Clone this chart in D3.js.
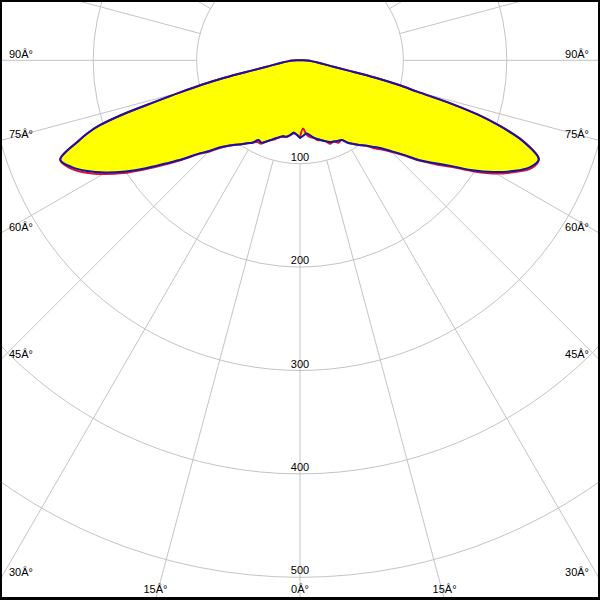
<!DOCTYPE html>
<html><head><meta charset="utf-8">
<script src="https://cdn.jsdelivr.net/npm/d3@7"></script>
<style>html,body{margin:0;padding:0;background:#fff;} svg{display:block;}</style>
</head><body>
<script>
// gamma angles (degrees from nadir)
const gammaAngles = [0,2.5,5,7.5,10,12.5,15,17.5,20,22.5,25,27.5,30,32.5,35,37.5,40,42.5,45,47.5,50,52.5,55,57.5,60,62.5,65,67.5,70,71,72,73,74,75,76,77,78,79,80,82.5,85,87.5,90];
// blue curve (C90-C270) intensities, left half and right half
const blueLeft  = [75,72,70,73,75,75,77,79,82,85,88,87,92,95,99,103,108,114,124,134,149,164,182,200,217,232,244,251,228,218,204,180,146,120,98,75,48,33,27,18,12,7,3];
const blueRight = [75,73,71,73,76,78,80,82,84,85,86,87,92,96,100,104,109,115,124,135,150,163,178,198,216,232,245,250,230,217,200,180,152,118,98,75,48,33,27,18,12,7,3];
// red curve (C0-C180) intensities
const redLeft   = [75,72,71,73,75,76,77,80,82,85,89,89,92,95,99,103,108,115,125,135,150,166,184,203,220,235,246,251,228,218,204,180,146,120,98,75,48,33,27,18,12,7,3];
const redRight  = [75,66,72,75,76,79,80,82,86,85,88,87,92,96,100,104,111,117,125,136,151,165,180,200,219,234,247,250,231,217,200,180,152,118,98,75,48,33,27,18,12,7,3];
// grid / tick values
const ringValues = [100,200,300,400,500];
const angleTicks = [0,15,30,45,60,75,90];
const degreeSuffix = "Â°";

const W = 600, H = 600, cx = 300, cy = 60.3;
const rad = d => d * Math.PI / 180;
const r = d3.scaleLinear().domain([0, 500]).range([0, 517]);

const svg = d3.select("body").append("svg").attr("width", W).attr("height", H)
  .style("font-family", "'Liberation Sans', Arial, sans-serif").style("font-size", "11px");
svg.append("rect").attr("width", W).attr("height", H).attr("fill", "#fff");

const g = svg.append("g").attr("transform", `translate(${cx},${cy})`);
const gridColor = "#c4c4c4";

// radial rays every 15 degrees, starting at the first ring
g.selectAll("line.ray").data(d3.range(0, 360, 15)).join("line").attr("class", "ray")
  .attr("x1", d => r(ringValues[0]) * Math.sin(rad(d)))
  .attr("y1", d => r(ringValues[0]) * Math.cos(rad(d)))
  .attr("x2", d => r(900) * Math.sin(rad(d)))
  .attr("y2", d => r(900) * Math.cos(rad(d)))
  .attr("stroke", gridColor).attr("stroke-width", 1);

// rings
g.selectAll("circle.ring").data(ringValues).join("circle").attr("class", "ring")
  .attr("r", d => r(d)).attr("fill", "none").attr("stroke", gridColor).attr("stroke-width", 1);

// curves
function halfPoints(left, right) {
  const pts = [];
  for (let i = gammaAngles.length - 1; i >= 0; i--) pts.push({a: -gammaAngles[i], v: left[i]});
  for (let i = 0; i < gammaAngles.length; i++) pts.push({a: gammaAngles[i], v: right[i]});
  return pts;
}
const line = d3.lineRadial()
  .angle(d => Math.PI - rad(d.a))
  .radius(d => r(d.v))
  .curve(d3.curveCatmullRomClosed.alpha(0.5));

const redPts = halfPoints(redLeft, redRight);
const bluePts = halfPoints(blueLeft, blueRight);

g.append("path").attr("d", line(redPts)).attr("fill", "#ffff00").attr("stroke", "none");
g.append("path").attr("d", line(bluePts)).attr("fill", "#ffff00").attr("stroke", "none");
g.append("path").attr("d", line(redPts)).attr("fill", "none").attr("stroke", "#e0103c").attr("stroke-width", 2).attr("stroke-linejoin", "round");
g.append("path").attr("d", line(bluePts)).attr("fill", "none").attr("stroke", "#1414a8").attr("stroke-width", 2).attr("stroke-linejoin", "round");

// ring labels
svg.selectAll("text.ringlab").data(ringValues).join("text").attr("class", "ringlab")
  .attr("x", cx).attr("y", d => cy + r(d) - 3)
  .attr("text-anchor", "middle").attr("fill", "#000").text(d => d);

// angle labels where rays leave the picture
angleTicks.forEach(a => {
  const s = Math.sin(rad(a)), c = Math.cos(rad(a));
  const ySide = s > 0 ? cy + (cx / s) * c : Infinity;
  if (ySide <= H - 20) {
    const yb = Math.min(ySide - 2.5, 576);
    svg.append("text").attr("x", 9).attr("y", yb).attr("text-anchor", "start").text(a + degreeSuffix);
    svg.append("text").attr("x", W - 11).attr("y", yb).attr("text-anchor", "end").text(a + degreeSuffix);
  } else {
    const dx = (H - cy) * Math.tan(rad(a));
    const xs = a === 0 ? [cx] : [cx - dx, cx + dx];
    xs.forEach(x => svg.append("text").attr("x", x).attr("y", 593).attr("text-anchor", "middle").text(a + degreeSuffix));
  }
});

// frame
svg.append("rect").attr("x", 0).attr("y", 0).attr("width", W).attr("height", 2).attr("fill", "#000");
svg.append("rect").attr("x", 0).attr("y", 0).attr("width", 2).attr("height", H).attr("fill", "#000");
svg.append("rect").attr("x", W - 2).attr("y", 0).attr("width", 2).attr("height", H).attr("fill", "#000");
svg.append("rect").attr("x", 0).attr("y", H - 3).attr("width", W).attr("height", 3).attr("fill", "#000");
</script>
</body></html>
